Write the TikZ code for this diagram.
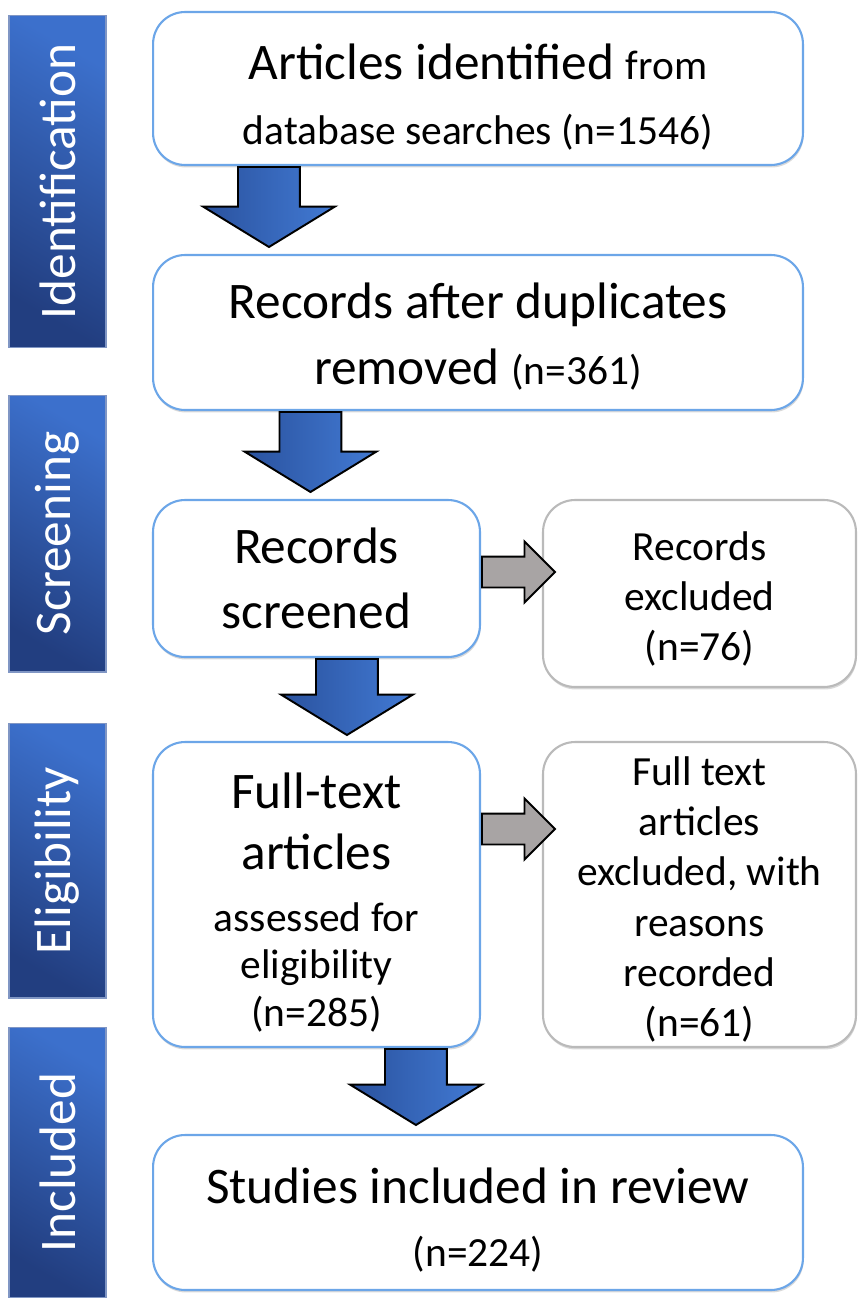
\documentclass[tikz,border=0pt]{standalone}
\usepackage{fontspec}
\setmainfont{Carlito}
\usepackage{xcolor}
\definecolor{prismaBarDark}{RGB}{34, 62, 128}
\definecolor{prismaBarLight}{RGB}{60, 112, 204}
\definecolor{prismaBarEdge}{RGB}{128, 150, 196}
\definecolor{prismaBoxEdge}{RGB}{108, 166, 232}
\definecolor{prismaGreyEdge}{RGB}{186, 186, 186}
\definecolor{prismaArrowDark}{RGB}{42, 82, 158}
\definecolor{prismaArrowLight}{RGB}{66, 122, 212}
\definecolor{prismaGrey}{RGB}{168, 164, 164}
\usepackage{tikz}
\usetikzlibrary{
    shapes.arrows,
    positioning,
    shadows
}

\newcommand{\boxBigFont}{\fontsize{29.2pt}{35pt}\selectfont}
\newcommand{\boxSmallFont}{\fontsize{23.6pt}{28.5pt}\selectfont}

\begin{document}
\begin{tikzpicture}[
    x=0.02cm, y=-0.02cm,
    stageBar/.style={
        rectangle,
        draw=prismaBarEdge, line width=0.6pt,
        top color=prismaBarLight, bottom color=prismaBarDark, shading angle=-30,
        text=white, font=\boxBigFont,
        inner sep=0pt, minimum width=1.94cm
    },
    flowBox/.style={
        rectangle, rounded corners=0.64cm,
        draw=prismaBoxEdge, line width=1.2pt,
        fill=white, text=black,
        drop shadow={shadow xshift=0.4pt, shadow yshift=-1.4pt, opacity=0.3},
        align=center, font=\boxBigFont,
        inner sep=2pt
    },
    exclBox/.style={
        flowBox, draw=prismaGreyEdge, font=\boxSmallFont
    },
    downArrow/.style={
        single arrow, rotate=-90,
        draw=black, line width=1.1pt,
        left color=prismaArrowDark, right color=prismaArrowLight,
        single arrow head extend=0.7cm, single arrow tip angle=117,
        minimum width=2.6cm, inner xsep=0pt, inner ysep=0.6cm, anchor=tail
    },
    sideArrow/.style={
        single arrow,
        draw=black, line width=1.1pt, fill=prismaGrey,
        single arrow head extend=0.3cm, single arrow tip angle=90,
        minimum width=1.18cm, minimum height=1.46cm,
        inner xsep=0pt, inner ysep=0.29cm, anchor=tail
    }
]

    % Frame
    \useasboundingbox (0, 0) rectangle (860, 1298);

    % Stage bars
    \node[stageBar, minimum height=6.66cm] (barIdent) at (57.5, 181.5) {\rotatebox{90}{Identification}};
    \node[stageBar, minimum height=5.54cm] (barScreen) at (57.5, 533.5) {\rotatebox{90}{Screening}};
    \node[stageBar, minimum height=5.5cm] (barElig) at (57.5, 860.5) {\rotatebox{90}{Eligibility}};
    \node[stageBar, minimum height=5.42cm] (barIncl) at (57.5, 1162.5) {\rotatebox{90}{Included}};

    % Main column
    \node[flowBox, minimum width=13cm, minimum height=3.06cm] (boxArticles) at (478, 88.5)
        {\rule{0pt}{30pt}Articles identified {\boxSmallFont from}\\[2pt]{\boxSmallFont database searches (n=1546)}};
    \node[flowBox, minimum width=13cm, minimum height=3.1cm] (boxDedup) at (478, 332.5)
        {\rule{0pt}{25pt}Records after duplicates\\[3pt]removed {\boxSmallFont (n=361)}};
    \node[flowBox, minimum width=6.54cm, minimum height=3.14cm] (boxScreened) at (316.5, 578.5)
        {Records\\[2pt]screened};
    \node[flowBox, minimum width=6.54cm, minimum height=6.1cm] (boxFullText) at (316.5, 894.5)
        {\rule{0pt}{29pt}Full-text\\articles\\{\boxSmallFont assessed for}\\[-8pt]{\boxSmallFont eligibility}\\[-8pt]{\boxSmallFont (n=285)}};
    \node[flowBox, minimum width=13cm, minimum height=3.1cm] (boxIncluded) at (478, 1212.5)
        {\rule{0pt}{29pt}Studies included in review\\[1pt]{\boxSmallFont (n=224)}};

    % Exclusion column
    \node[exclBox, minimum width=6.26cm, minimum height=3.74cm] (boxExclRec) at (699.5, 593.5)
        {\rule{0pt}{23pt}Records\\excluded\\(n=76)};
    \node[exclBox, minimum width=6.26cm, minimum height=6.1cm] (boxExclFull) at (699.5, 894.5)
        {\rule{0pt}{22pt}Full text\\articles\\excluded, with\\reasons\\recorded\\(n=61)};

    % Flow arrows
    \node[downArrow, minimum height=1.6cm] (arrIdent) at ([xshift=2.34cm]boxArticles.south west) {};
    \node[downArrow, minimum height=1.6cm] (arrDedup) at ([xshift=3.17cm]boxDedup.south west) {};
    \node[downArrow, minimum height=1.52cm] (arrScreen) at ([xshift=3.9cm]boxScreened.south west) {};
    \node[downArrow, minimum height=1.52cm] (arrFull) at ([xshift=5.28cm]boxFullText.south west) {};

    % Exclusion arrows
    \node[sideArrow] (arrExclRec) at ([yshift=0.13cm]boxScreened.east) {};
    \node[sideArrow] (arrExclFull) at ([yshift=1.31cm]boxFullText.east) {};

\end{tikzpicture}
\end{document}
